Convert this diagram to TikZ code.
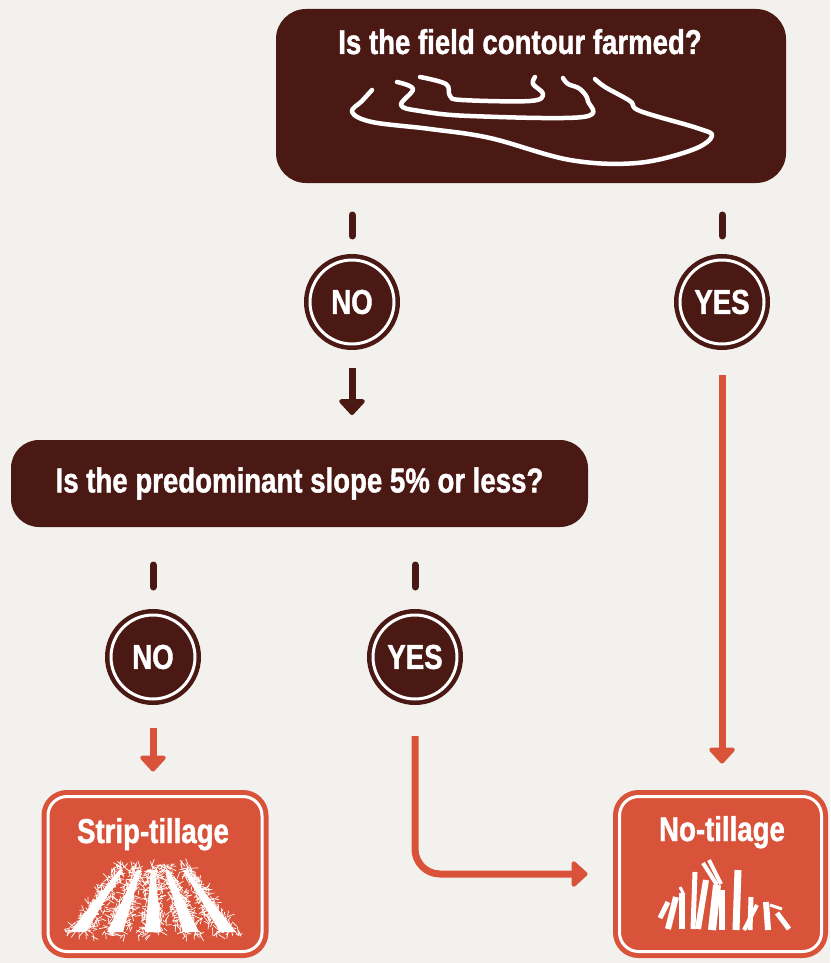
\documentclass[tikz,border=0pt]{standalone}
\usepackage{fontspec}
\setmainfont{Liberation Sans}[FakeStretch=0.8, FakeBold=1.2]
\usetikzlibrary{arrows.meta,positioning}
\definecolor{bark}{RGB}{74,25,20}
\definecolor{rust}{RGB}{217,83,58}
\definecolor{paper}{RGB}{243,241,237}

\begin{document}
\begin{tikzpicture}[x=1pt,y=-1pt,
  every node/.style={font=\fontsize{34.5}{38}\selectfont\bfseries, text=white, outer sep=0pt},
  qbox/.style={fill=bark, rounded corners=#1, inner sep=0pt},
  ring/.style={circle, fill=#1, draw=white, line width=3pt, minimum size=84pt,
    inner sep=0pt, preaction={draw=#1, line width=12pt}},
  endbox/.style={fill=rust, draw=white, line width=3pt, rounded corners=19pt,
    minimum height=155pt, inner sep=0pt, preaction={draw=rust, line width=13pt}},
  stub/.style={bark, line width=7pt, line cap=round},
  tip/.style={line width=7pt, -{Triangle[width=30pt,length=17pt,round]}},
  contour/.style={white, line width=4.5pt, line cap=round, line join=round}]

  \fill[paper] (0,0) rectangle (830,963);
  \useasboundingbox (0,0) rectangle (830,963);

  % questions
  \node[qbox=30pt, minimum width=510pt, minimum height=174pt] (Q1) at (531,96) {};
  \node[anchor=base] (Q1t) at (520,54) {Is the field contour farmed?};
  \node[qbox=28pt, minimum width=577pt, minimum height=87pt] (Q2) at (299.5,483.5)
    {Is the predominant slope 5\% or less?};

  % contour lines
  \draw[contour] plot[smooth, tension=0.6] coordinates {(372,90) (362,101) (352,112)
    (372,122) (430,129) (490,138) (570,160) (637,163) (692,150) (712,136) (697,128)
    (640,111) (630,101) (605,87) (595,79)};
  \draw[contour] plot[smooth, tension=0.6] coordinates {(397,82) (413,89) (401,105)
    (420,111) (470,116) (583,117) (588,101) (580,89) (568,84) (563,78)};
  \draw[contour] plot[smooth, tension=0.6] coordinates {(420,77) (446,84) (450,96)
    (462,100) (530,101) (543,94) (533,84) (535,77)};

  % answers
  \node[ring=bark] (N1) at (352,302) {NO};
  \node[ring=bark] (Y1) at (722,302) {YES};
  \node[ring=bark] (N2) at (153,657) {NO};
  \node[ring=bark] (Y2) at (415,657) {YES};

  % results
  \node[endbox, minimum width=214pt] (ST) at (155,874) {};
  \node[anchor=base] (STt) at (153,843) {Strip-tillage};
  \node[endbox, minimum width=202pt] (NT) at (720.5,874) {};
  \node[anchor=base] (NTt) at (722,841) {No-tillage};

  \draw[stub, shorten <=32pt, shorten >=24pt] (Q1.south -| N1) -- (N1.north);
  \draw[stub, shorten <=32pt, shorten >=24pt] (Q1.south -| Y1) -- (Y1.north);
  \draw[stub, shorten <=38pt, shorten >=28pt] (Q2.south -| N2) -- (N2.north);
  \draw[stub, shorten <=38pt, shorten >=28pt] (Q2.south -| Y2) -- (Y2.north);

  \draw[tip, bark, shorten <=24pt, shorten >=25pt] (N1.south) -- (Q2.north -| N1);
  \draw[tip, rust, shorten <=31pt, shorten >=33pt] (Y1.south) -- (NT.north -| Y1);
  \draw[tip, rust, shorten <=29pt, shorten >=25pt] (N2.south) -- (ST.north -| N2);
  \draw[tip, rust, rounded corners=25pt, shorten <=37pt, shorten >=32pt]
    (Y2.south) |- (NT.west);

  % strip rows
  \pgfmathsetseed{7}
  \foreach \bx/\tx in {-75/-32,-38/-14,0/0,38/14,75/32}{
    \fill[white] (153+\bx-8,932) -- (153+\tx-2,870) -- (153+\tx+2,870)
      -- (153+\bx+8,932) -- cycle;
    \foreach \k in {1,...,220}{
      \pgfmathsetmacro{\rt}{rnd}
      \pgfmathsetmacro{\rs}{2*rnd-1}
      \pgfmathsetmacro{\px}{153+\bx+(\tx-\bx)*\rt+\rs*(15-10*\rt)}
      \pgfmathsetmacro{\py}{936-71*\rt}
      \pgfmathsetmacro{\ra}{rnd*360}
      \draw[white, line width=0.7pt, line cap=round] (\px,\py) -- ++(\ra:3+5*rnd);
    }
  }

  % stalks
  \foreach \xa/\ya/\xb/\yb/\w in {660/918/668/902/5, 668/929/676/897/6,
      682/929/682/893/6, 684/895/680/887/3, 693/929/695/872/5, 698/929/706/880/6,
      712/930/717/885/8, 717/885/703/863/4, 721/884/709/860/4, 722/930/722/890/6,
      736/930/738/870/7, 750/930/751/897/5, 744/930/757/905/4, 768/930/766/902/6,
      770/905/782/909/3, 777/913/789/929/5}
    \draw[white, line width=\w pt] (\xa,\ya) -- (\xb,\yb);
\end{tikzpicture}
\end{document}
